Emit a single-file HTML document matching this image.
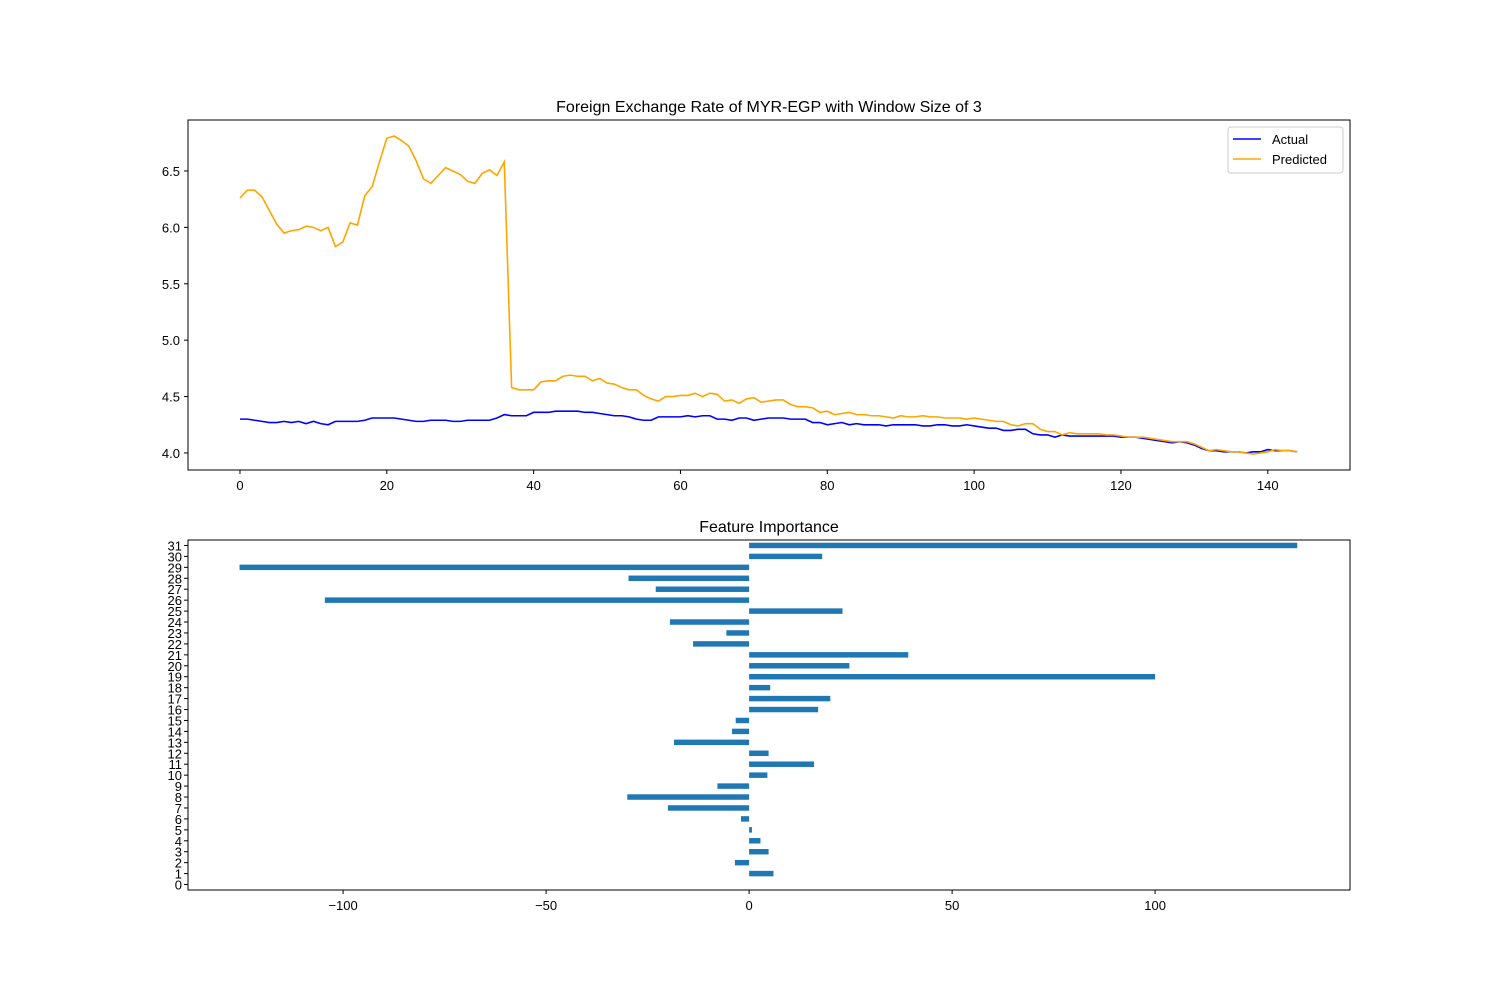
<!DOCTYPE html>
<html><head><meta charset="utf-8"><style>
body{margin:0;background:#fff;font-family:"Liberation Sans",sans-serif;}
svg text{font-family:"Liberation Sans",sans-serif;font-size:13px;fill:#000;}
</style></head><body>
<svg id="c" width="1500" height="1000" xmlns="http://www.w3.org/2000/svg"></svg>
<script>
const actual=[4.3,4.3,4.29,4.28,4.27,4.27,4.28,4.27,4.28,4.26,4.28,4.26,4.25,4.28,4.28,4.28,4.28,4.29,4.31,4.31,4.31,4.31,4.3,4.29,4.28,4.28,4.29,4.29,4.29,4.28,4.28,4.29,4.29,4.29,4.29,4.31,4.34,4.33,4.33,4.33,4.36,4.36,4.36,4.37,4.37,4.37,4.37,4.36,4.36,4.35,4.34,4.33,4.33,4.32,4.3,4.29,4.29,4.32,4.32,4.32,4.32,4.33,4.32,4.33,4.33,4.3,4.3,4.29,4.31,4.31,4.29,4.3,4.31,4.31,4.31,4.3,4.3,4.3,4.27,4.27,4.25,4.26,4.27,4.25,4.26,4.25,4.25,4.25,4.24,4.25,4.25,4.25,4.25,4.24,4.24,4.25,4.25,4.24,4.24,4.25,4.24,4.23,4.22,4.22,4.2,4.2,4.21,4.21,4.17,4.16,4.16,4.14,4.16,4.15,4.15,4.15,4.15,4.15,4.15,4.15,4.14,4.14,4.14,4.13,4.12,4.11,4.1,4.09,4.1,4.09,4.07,4.04,4.02,4.02,4.01,4.01,4.01,4.0,4.01,4.01,4.03,4.02,4.02,4.02,4.01];
const predicted=[6.26,6.33,6.33,6.27,6.15,6.03,5.95,5.97,5.98,6.01,6.0,5.97,6.0,5.83,5.87,6.04,6.02,6.28,6.36,6.58,6.79,6.81,6.77,6.72,6.59,6.43,6.39,6.46,6.53,6.5,6.47,6.41,6.39,6.48,6.51,6.46,6.58,4.58,4.56,4.56,4.56,4.63,4.64,4.64,4.68,4.69,4.68,4.68,4.64,4.66,4.62,4.61,4.58,4.56,4.56,4.51,4.48,4.46,4.5,4.5,4.51,4.51,4.53,4.5,4.53,4.52,4.46,4.47,4.44,4.48,4.49,4.45,4.46,4.47,4.47,4.43,4.41,4.41,4.4,4.36,4.37,4.34,4.35,4.36,4.34,4.34,4.33,4.33,4.32,4.31,4.33,4.32,4.32,4.33,4.32,4.32,4.31,4.31,4.31,4.3,4.31,4.3,4.29,4.28,4.28,4.25,4.24,4.26,4.26,4.21,4.19,4.19,4.16,4.18,4.17,4.17,4.17,4.17,4.16,4.16,4.15,4.14,4.14,4.14,4.13,4.12,4.11,4.1,4.1,4.1,4.08,4.05,4.02,4.03,4.02,4.01,4.01,4.0,3.99,4.0,4.01,4.03,4.02,4.02,4.01];
const topXTicks=[0,20,40,60,80,100,120,140];
const topYTicks=[4.0,4.5,5.0,5.5,6.0,6.5];
const features=[0,1,2,3,4,5,6,7,8,9,10,11,12,13,14,15,16,17,18,19,20,21,22,23,24,25,26,27,28,29,30,31];
const importance=[0,6,-3.5,4.8,2.8,0.7,-2,-20,-30,-7.8,4.5,16,4.8,-18.5,-4.2,-3.3,17,20,5.2,100,24.7,39.2,-13.8,-5.6,-19.5,23,-104.5,-23,-29.7,-125.5,18,135];
const botXTicks=[-100,-50,0,50,100];

const NS="http://www.w3.org/2000/svg",svg=document.getElementById('c');
function mk(t,a,p){const e=document.createElementNS(NS,t);for(const k in a)e.setAttribute(k,a[k]);(p||svg).appendChild(e);return e;}
// top axes
const T={l:188,r:1350,t:120,b:470,x0:-7.08,x1:151.2,y0:3.849,y1:6.952};
const tx=v=>T.l+(v-T.x0)/(T.x1-T.x0)*(T.r-T.l);
const ty=v=>T.b-(v-T.y0)/(T.y1-T.y0)*(T.b-T.t);
let g=mk('g',{});


let e=mk('text',{x:769,y:112,'text-anchor':'middle',style:'font-size:16px'},g);e.textContent='Foreign Exchange Rate of MYR-EGP with Window Size of 3';

topXTicks.forEach(v=>{const x=tx(v);mk('line',{x1:x,x2:x,y1:T.b,y2:T.b+4,stroke:'#000'},g);const t=mk('text',{x:x,y:T.b+20,'text-anchor':'middle'},g);t.textContent=v;
});
topYTicks.forEach(v=>{const y=ty(v);mk('line',{x1:T.l-4,x2:T.l,y1:y,y2:y,stroke:'#000'},g);const t=mk('text',{x:T.l-8,y:y+5,'text-anchor':'end'},g);t.textContent=v.toFixed(1);
});
function line(arr,col,name){const p=mk('polyline',{points:arr.map((v,i)=>tx(i)+','+ty(v)).join(' '),fill:'none',stroke:col,'stroke-width':1.6},g);
}
line(actual,'#0000ff','actual-line');line(predicted,'#ffa500','predicted-line');
mk('rect',{x:T.l,y:T.t,width:T.r-T.l,height:T.b-T.t,fill:'none',stroke:'#000','stroke-width':1},g);
let lg=mk('g',{},g);
mk('rect',{x:1228,y:127,width:115,height:46,fill:'#fff',stroke:'#ccc',rx:3},lg);
mk('line',{x1:1233,x2:1261,y1:139,y2:139,stroke:'#0000ff','stroke-width':1.6},lg);
mk('line',{x1:1233,x2:1261,y1:159,y2:159,stroke:'#ffa500','stroke-width':1.6},lg);
e=mk('text',{x:1272,y:144},lg);e.textContent='Actual';
e=mk('text',{x:1272,y:164},lg);e.textContent='Predicted';
// bottom axes
const B={l:188,r:1350,t:540,b:890,x0:-138.2,x1:148,y0:-0.5,y1:31.5};
const bx=v=>B.l+(v-B.x0)/(B.x1-B.x0)*(B.r-B.l);
const by=v=>B.b-(v-B.y0)/(B.y1-B.y0)*(B.b-B.t);
let g2=mk('g',{});


e=mk('text',{x:769,y:532,'text-anchor':'middle',style:'font-size:16px'},g2);e.textContent='Feature Importance';

features.forEach((f,i)=>{const v=importance[i];const x0=bx(0),x1=bx(v);
const r=mk('rect',{x:Math.min(x0,x1),y:by(f+0.25),width:Math.abs(x1-x0),height:by(f-0.25)-by(f+0.25),fill:'#1f77b4'},g2);

const y=by(f);mk('line',{x1:B.l-4,x2:B.l,y1:y,y2:y,stroke:'#000'},g2);
const t=mk('text',{x:B.l-6,y:y+5,'text-anchor':'end'},g2);t.textContent=f;
});
botXTicks.forEach(v=>{const x=bx(v);mk('line',{x1:x,x2:x,y1:B.b,y2:B.b+4,stroke:'#000'},g2);const t=mk('text',{x:x,y:B.b+20,'text-anchor':'middle'},g2);t.textContent=v<0?'−'+(-v):v;
});
mk('rect',{x:B.l,y:B.t,width:B.r-B.l,height:B.b-B.t,fill:'none',stroke:'#000','stroke-width':1},g2);
</script>
</body></html>
